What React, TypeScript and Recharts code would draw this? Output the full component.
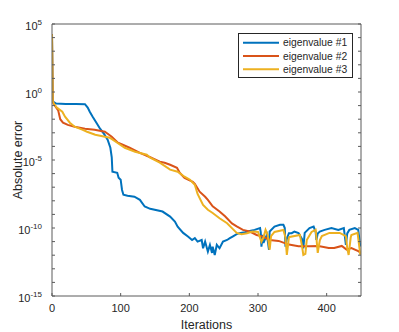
import React from 'react';
import { LineChart, Line, XAxis, YAxis, Legend } from 'recharts';

const FONT = '"Liberation Sans", Arial, Helvetica, sans-serif';
const TEXT = '#262626';
const AXIS = '#5a5a5a';

const seriesNames = ['eigenvalue #1', 'eigenvalue #2', 'eigenvalue #3'];
const seriesColors = ['#0072BD', '#D95319', '#EDB120'];

const xTicks = [0, 100, 200, 300, 400];
const xDomain = [0, 450];
const yExponents = [-15, -14, -13, -12, -11, -10, -9, -8, -7, -6, -5, -4, -3, -2, -1, 0, 1, 2, 3, 4, 5];
const labeledExponents = [-15, -10, -5, 0, 5];

// [iteration, log10(absolute error)]
const eig1: [number, number][] = [
  [0, 4.25], [1, -0.65], [2, -0.72], [6, -0.85], [20, -0.88], [35, -0.88], [48, -0.9], [52, -1.15],
  [55, -1.45], [59, -1.8], [64, -2.2], [70, -2.7], [76, -3.1], [81, -3.5], [85, -4.1], [87, -4.8],
  [88, -5.86], [95, -5.94], [97, -6.3], [100, -6.45], [102, -7.2], [104, -7.55], [110, -7.63],
  [120, -7.7], [128, -7.93], [135, -8.42], [143, -8.59], [161, -8.79], [172, -9.16], [179, -9.53],
  [183, -9.9], [191, -10.36], [198, -10.63], [204, -10.88], [208, -10.75], [212, -11.0], [218, -10.88],
  [220, -11.49], [223, -11.0], [227, -11.74], [230, -11.24], [233, -11.83], [234, -11.37], [237, -11.98],
  [240, -11.24], [244, -11.49], [249, -11.0], [255, -10.88], [259, -10.75], [263, -10.63], [269, -10.45],
  [273, -10.38], [281, -10.31], [288, -10.21], [295, -10.14], [303, -10.01], [304, -10.3], [305, -11.37],
  [307, -10.5], [308, -11.1], [313, -10.5], [316, -11.6], [317, -10.26], [324, -9.9], [332, -9.77],
  [337, -9.77], [339, -10.0], [340, -11.37], [342, -10.8], [345, -10.38], [349, -10.38], [353, -10.26],
  [359, -10.38], [364, -10.8], [366, -11.5], [368, -10.36], [375, -10.01], [381, -9.9], [384, -10.3],
  [385, -10.88], [387, -10.4], [390, -10.26], [397, -10.14], [407, -10.01], [417, -10.14], [425, -10.01],
  [428, -11.24], [430, -10.4], [433, -10.14], [441, -10.01], [446, -10.14], [449, -11.37],
];

const eig2: [number, number][] = [
  [0, 4.25], [1, -0.7], [4, -1.0], [9, -1.35], [12, -2.0], [16, -2.25], [23, -2.42], [33, -2.55],
  [48, -2.7], [62, -2.78], [77, -2.92], [87, -3.29], [96, -3.73], [103, -3.88], [113, -4.1],
  [128, -4.47], [143, -4.8], [157, -5.13], [164, -5.2], [172, -5.35], [182, -5.57], [186, -5.94],
  [193, -6.31], [205, -6.6], [208, -6.75], [215, -7.33], [223, -7.7], [227, -7.93], [234, -8.41],
  [244, -8.78], [252, -9.14], [262, -9.66], [269, -9.88], [278, -10.14], [288, -10.26], [298, -10.51],
  [307, -10.63], [317, -10.88], [330, -10.95], [345, -11.22], [359, -11.34], [374, -11.34],
  [388, -11.32], [403, -11.47], [411, -11.47], [422, -11.32], [429, -11.59], [436, -11.47],
  [446, -11.69], [449, -11.83],
];

const eig3: [number, number][] = [
  [0, 4.25], [1, -0.7], [4, -0.95], [7, -1.15], [15, -1.45], [19, -1.81], [26, -2.26], [33, -2.55],
  [44, -2.77], [51, -2.92], [63, -3.14], [70, -3.21], [84, -3.36], [95, -3.73], [106, -4.1],
  [121, -4.39], [138, -4.61], [143, -4.83], [157, -5.2], [172, -5.71], [183, -5.86], [193, -6.23],
  [201, -6.45], [208, -6.82], [212, -7.5], [220, -8.3], [227, -8.66], [234, -8.9], [244, -9.28],
  [255, -9.65], [262, -10.01], [269, -10.36], [276, -10.45], [284, -10.38], [292, -10.26],
  [300, -10.29], [305, -11.0], [308, -10.7], [311, -10.14], [314, -10.5], [317, -11.6], [319, -10.6],
  [324, -10.29], [337, -10.14], [340, -10.7], [342, -11.98], [345, -10.7], [346, -10.66],
  [361, -10.51], [364, -11.3], [366, -11.98], [369, -11.9], [371, -10.88], [378, -10.29],
  [384, -10.14], [387, -11.83], [390, -10.9], [393, -10.59], [404, -10.36], [419, -10.36],
  [428, -10.59], [430, -11.5], [432, -11.98], [435, -10.7], [436, -10.51], [445, -10.36], [449, -11.98],
];

const allSeries = [eig1, eig2, eig3];

const toRows = (pts: [number, number][]) => pts.map(([iter, e]) => ({ iter, err: Math.pow(10, e) }));
const yTicks = yExponents.map((e) => Math.pow(10, e));

const YTick = (props: any) => {
  const { x, y, payload } = props;
  const e = Math.round(Math.log10(payload.value));
  if (!labeledExponents.includes(e)) return <g />;
  return (
    <text x={x} y={y} dy={6} textAnchor="end" fill={TEXT} fontSize={11} fontFamily={FONT}>
      10
      <tspan dy={-5} fontSize={8}>{String(e)}</tspan>
    </text>
  );
};

const renderLegend = () => (
  <div style={{ width: 115, height: 45, border: '1px solid #262626', background: '#fff', boxSizing: 'border-box' }}>
    <svg width={113} height={43} style={{ display: 'block' }}>
      {seriesNames.map((n, i) => (
        <g key={n}>
          <line x1={4} x2={40} y1={8.7 + i * 13.3} y2={8.7 + i * 13.3} stroke={seriesColors[i]} strokeWidth={2} />
          <text x={44} y={8.7 + i * 13.3 + 3.6} fontSize={10.3} fontFamily={FONT} fill={TEXT}>{n}</text>
        </g>
      ))}
    </svg>
  </div>
);

export default function App() {
  return (
    <div style={{ position: 'absolute', left: 0, top: 0, width: 399, height: 332, background: '#fff' }}>
      <LineChart width={399} height={332} margin={{ top: 23, right: 37, bottom: 0, left: 0 }}>
        <XAxis
          xAxisId="bottom"
          type="number"
          dataKey="iter"
          domain={xDomain}
          ticks={xTicks}
          allowDataOverflow
          height={36}
          stroke={AXIS}
          tickSize={-3}
          tickMargin={11}
          tick={{ fill: TEXT, fontSize: 11, fontFamily: FONT }}
          label={{ value: 'Iterations', position: 'insideBottom', offset: 3, fill: TEXT, fontSize: 12.5, fontFamily: FONT }}
        />
        <XAxis
          xAxisId="top"
          orientation="top"
          type="number"
          domain={xDomain}
          ticks={xTicks}
          allowDataOverflow
          height={1}
          stroke={AXIS}
          tickSize={-3}
          tickFormatter={() => ''}
        />
        <YAxis
          yAxisId="left"
          scale="log"
          type="number"
          domain={[1e-15, 1e5]}
          ticks={yTicks}
          allowDataOverflow
          width={52}
          stroke={AXIS}
          tickSize={-3}
          tickMargin={13}
          tick={<YTick />}
          interval={0}
          label={{ value: 'Absolute error', angle: -90, position: 'insideLeft', offset: 18, fill: TEXT, fontSize: 12.5, fontFamily: FONT, style: { textAnchor: 'middle' } }}
        />
        <YAxis
          yAxisId="right"
          orientation="right"
          scale="log"
          type="number"
          domain={[1e-15, 1e5]}
          ticks={yTicks}
          allowDataOverflow
          width={1}
          stroke={AXIS}
          tickSize={-3}
          interval={0}
          tickFormatter={() => ''}
        />
        {allSeries.map((pts, i) => (
          <Line
            key={seriesNames[i]}
            xAxisId="bottom"
            yAxisId="left"
            data={toRows(pts)}
            dataKey="err"
            name={seriesNames[i]}
            stroke={seriesColors[i]}
            strokeWidth={2}
            dot={false}
            activeDot={false}
            type="linear"
            isAnimationActive={false}
          />
        ))}
        <Legend
          layout="vertical"
          align="center"
          verticalAlign="middle"
          content={renderLegend}
          wrapperStyle={{ position: 'absolute', left: 238, top: 33, width: 115, height: 45 }}
        />
      </LineChart>
    </div>
  );
}
